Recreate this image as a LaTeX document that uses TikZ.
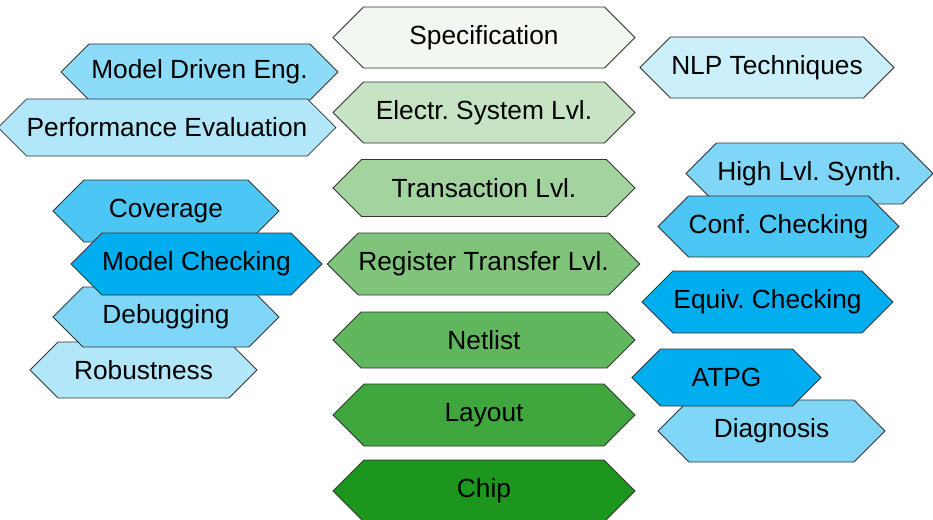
\documentclass[tikz,border=0pt]{standalone}
\usepackage{fontspec}
\setmainfont{Liberation Sans}
\usetikzlibrary{shapes.symbols}
\frenchspacing

% green ramp for the abstraction levels
\definecolor{gA}{RGB}{242,248,240}
\definecolor{gB}{RGB}{198,228,196}
\definecolor{gC}{RGB}{163,212,160}
\definecolor{gD}{RGB}{128,196,124}
\definecolor{gE}{RGB}{96,182,93}
\definecolor{gF}{RGB}{64,166,62}
\definecolor{gG}{RGB}{28,150,28}
% cyan tints for the techniques
\definecolor{cyanbase}{RGB}{0,174,239}

\tikzset{
  hexbox/.style={signal, signal to=west and east, signal pointer angle=90,
    draw=black!80, line width=0.8pt, inner sep=0pt,
    font=\fontsize{26.3}{30}\selectfont, text=black},
  lvl/.style={hexbox, minimum width=302pt},
  tech/.style={hexbox}
}

\begin{document}
\begin{tikzpicture}[x=1pt,y=-1pt]
\useasboundingbox (0,0) rectangle (933,519);

% abstraction levels
\node[lvl, fill=gA, minimum height=61pt] (spec)  at (484,37.5) {Specification};
\node[lvl, fill=gB, minimum height=61pt] (esl)   at (484,112.5) {Electr. System Lvl.};
\node[lvl, fill=gC, minimum height=57pt] (tlm)   at (484,188) {Transaction Lvl.};
\node[lvl, fill=gD, minimum height=62pt, minimum width=311pt] (rtl) at (483.5,264) {Register Transfer Lvl.};
\node[lvl, fill=gE, minimum height=56pt] (net)   at (484,340) {Netlist};
\node[lvl, fill=gF, minimum height=62pt] (lay)   at (484,415) {Layout};
\node[lvl, fill=gG, minimum height=62pt] (chip)  at (484,491) {Chip};

% techniques on the left
\node[tech, fill=cyanbase!45, minimum width=277pt, minimum height=56pt] (mde)  at (199.5,72) {Model Driven Eng.};
\node[tech, fill=cyanbase!30, minimum width=334pt, minimum height=57pt] (perf) at (167,127.5) {Performance Evaluation};
\node[tech, fill=cyanbase!30, minimum width=227pt, minimum height=56pt] (rob)  at (143.5,370) {Robustness};
\node[tech, fill=cyanbase!50, minimum width=226pt, minimum height=60pt] (dbg)  at (166,317) {Debugging};
\node[tech, fill=cyanbase!70, minimum width=226pt, minimum height=62pt] (cov)  at (166,211) {Coverage};
\node[tech, fill=cyanbase,    minimum width=251pt, minimum height=62pt] (mc)   at (196.5,264) {Model Checking};

% techniques on the right
\node[tech, fill=cyanbase!20, minimum width=254pt, minimum height=61pt] (nlp)  at (767,67.5) {NLP Techniques};
\node[tech, fill=cyanbase!50, minimum width=247pt, minimum height=61pt] (hls)  at (809.5,173.5) {High Lvl. Synth.};
\node[tech, fill=cyanbase!70, minimum width=241pt, minimum height=61pt] (conf) at (778.5,226.5) {Conf. Checking};
\node[tech, fill=cyanbase,    minimum width=251pt, minimum height=62pt] (eqv)  at (767.5,302) {Equiv. Checking};
\node[tech, fill=cyanbase!50, minimum width=227pt, minimum height=62pt] (diag) at (771.5,431) {Diagnosis};
\node[tech, fill=cyanbase,    minimum width=189pt, minimum height=57pt] (atpg) at (726.5,377.5) {ATPG};
\end{tikzpicture}
\end{document}
